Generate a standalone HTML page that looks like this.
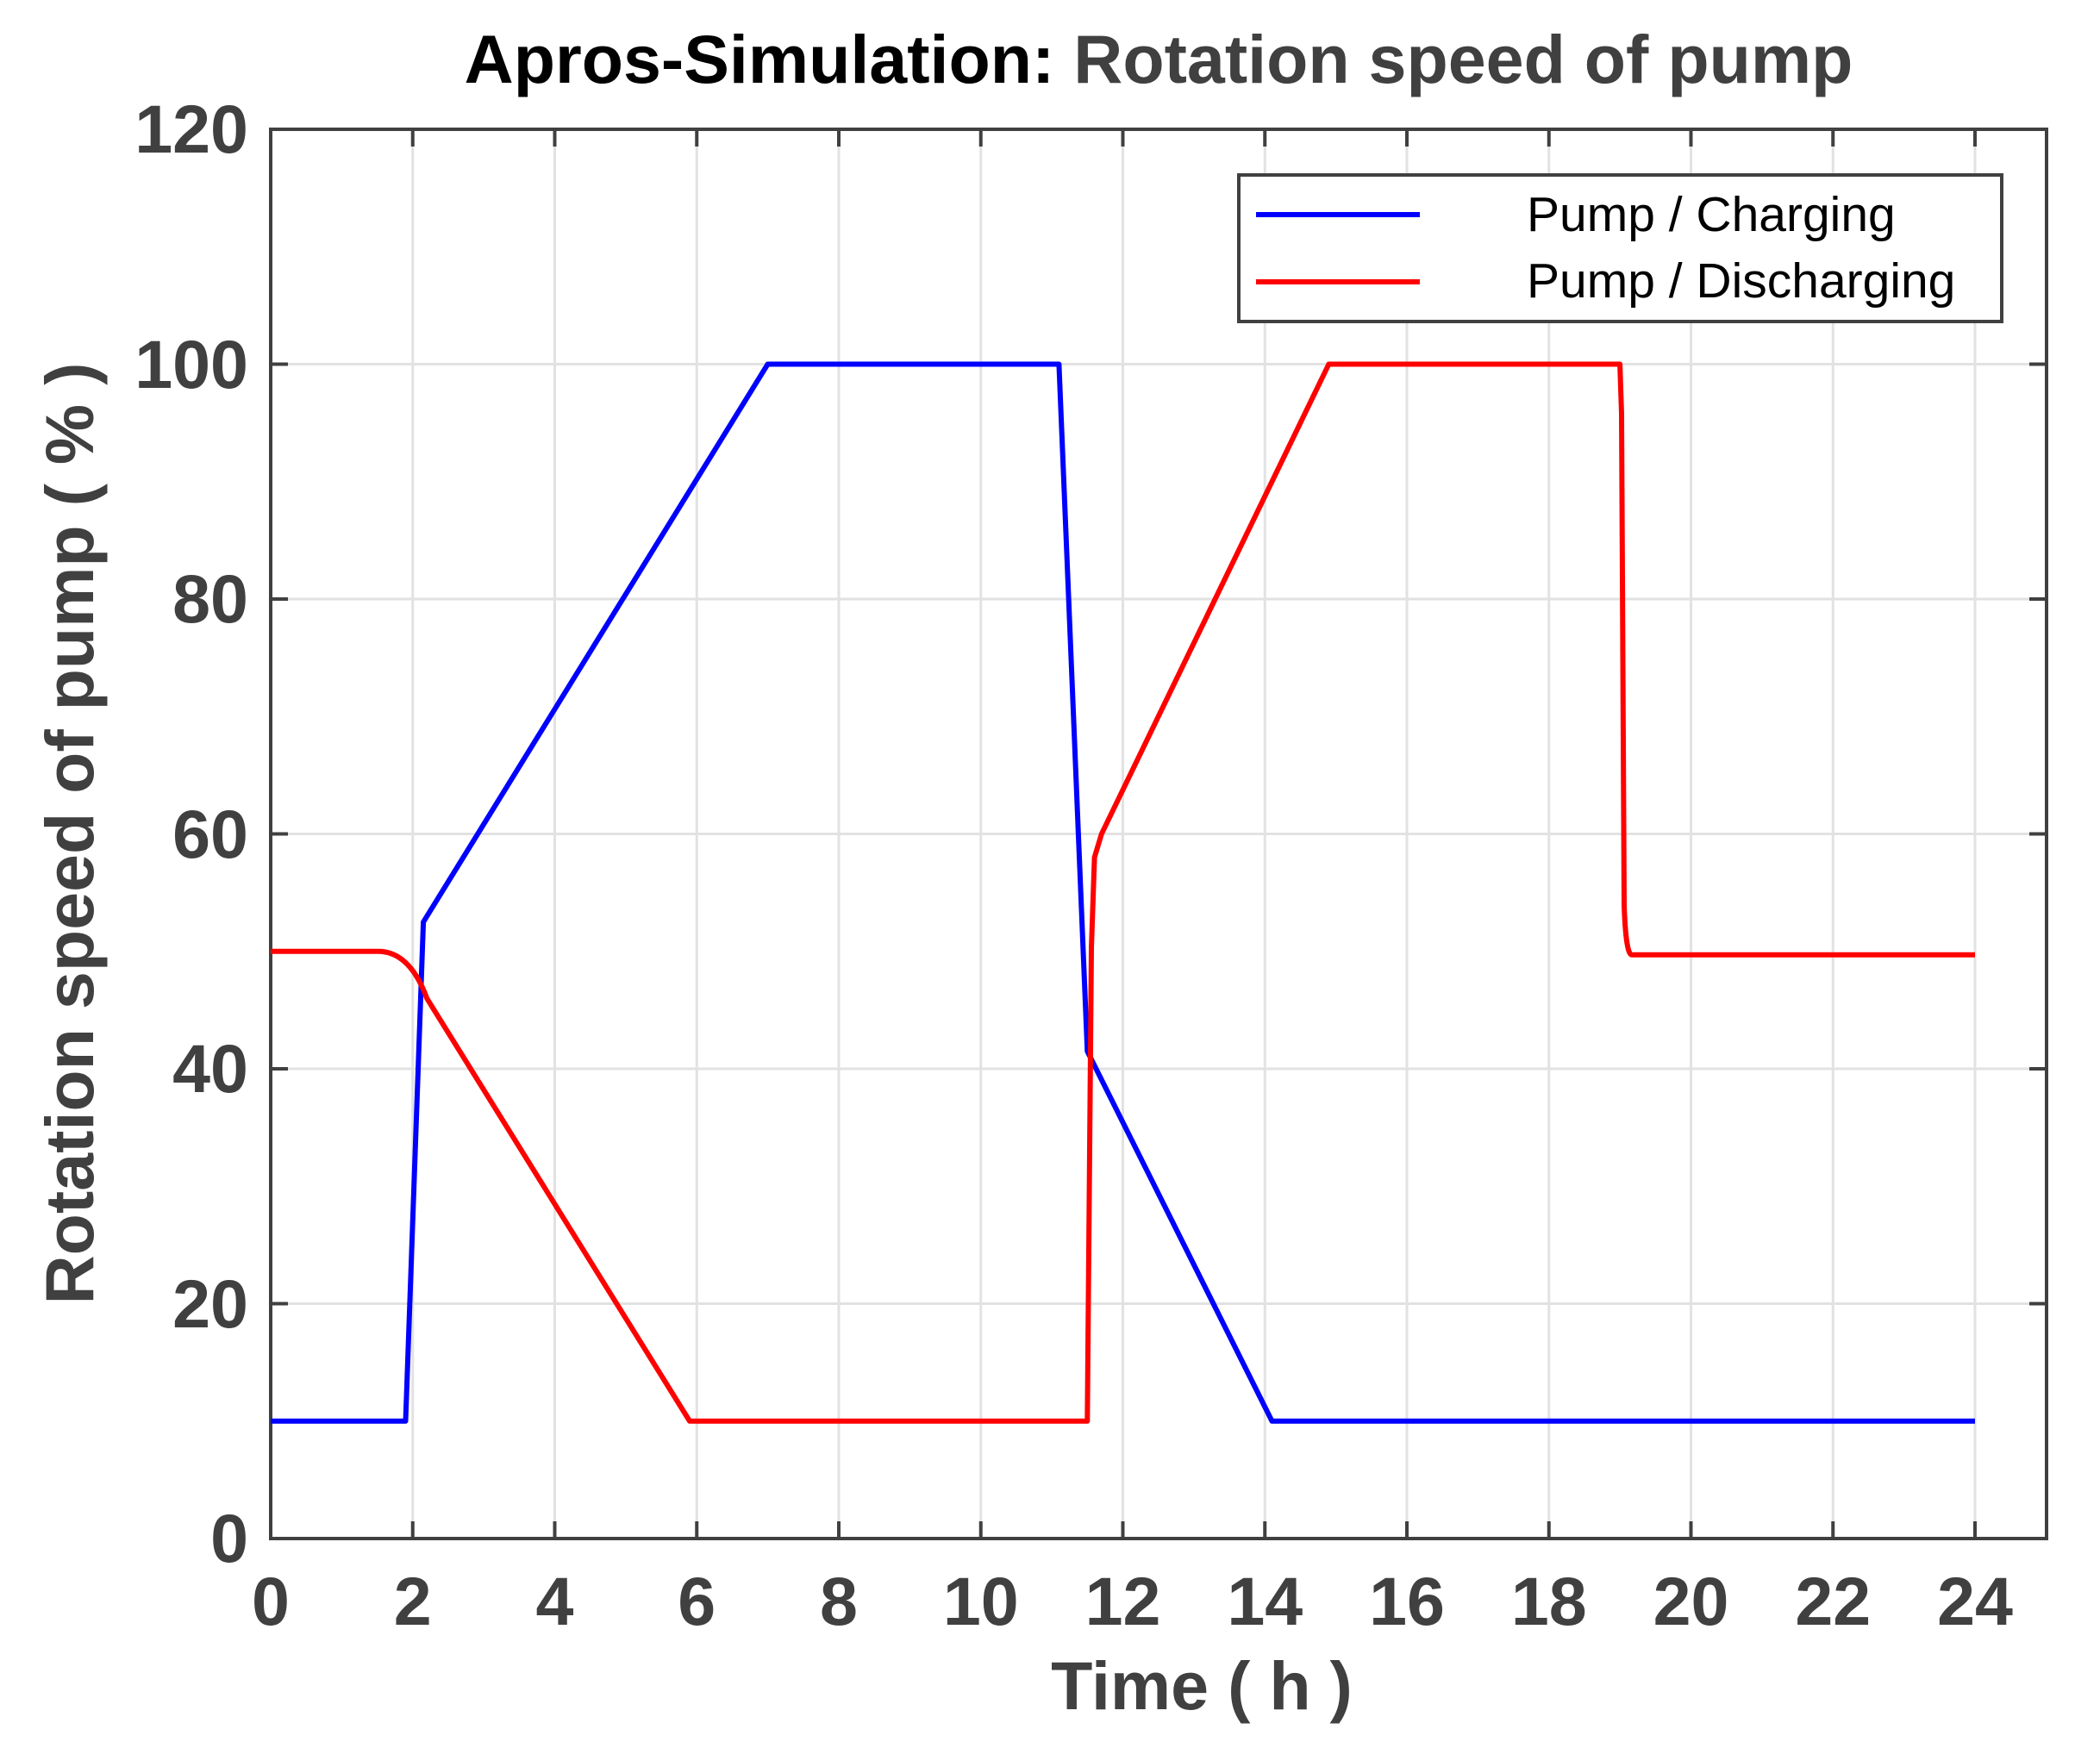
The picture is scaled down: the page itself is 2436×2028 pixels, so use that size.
<!DOCTYPE html>
<html><head><meta charset="utf-8"><style>
html,body{margin:0;padding:0;background:#fff;}
svg{display:block;}
</style></head><body>
<svg width="2436" height="2028" viewBox="0 0 2436 2028" xmlns="http://www.w3.org/2000/svg">
<rect width="2436" height="2028" fill="#fff"/>
<g stroke="#e2e2e2" stroke-width="3">
<line x1="478.75" y1="150" x2="478.75" y2="1785"/>
<line x1="643.5" y1="150" x2="643.5" y2="1785"/>
<line x1="808.25" y1="150" x2="808.25" y2="1785"/>
<line x1="973" y1="150" x2="973" y2="1785"/>
<line x1="1137.75" y1="150" x2="1137.75" y2="1785"/>
<line x1="1302.5" y1="150" x2="1302.5" y2="1785"/>
<line x1="1467.25" y1="150" x2="1467.25" y2="1785"/>
<line x1="1632" y1="150" x2="1632" y2="1785"/>
<line x1="1796.75" y1="150" x2="1796.75" y2="1785"/>
<line x1="1961.5" y1="150" x2="1961.5" y2="1785"/>
<line x1="2126.25" y1="150" x2="2126.25" y2="1785"/>
<line x1="2291" y1="150" x2="2291" y2="1785"/>
<line x1="314" y1="1512.5" x2="2374" y2="1512.5"/>
<line x1="314" y1="1240" x2="2374" y2="1240"/>
<line x1="314" y1="967.5" x2="2374" y2="967.5"/>
<line x1="314" y1="695" x2="2374" y2="695"/>
<line x1="314" y1="422.5" x2="2374" y2="422.5"/>
</g>
<g stroke="#404040" stroke-width="4">
<path d="M478.75,1785v-20M643.5,1785v-20M808.25,1785v-20M973,1785v-20M1137.75,1785v-20M1302.5,1785v-20M1467.25,1785v-20M1632,1785v-20M1796.75,1785v-20M1961.5,1785v-20M2126.25,1785v-20M2291,1785v-20"/>
<path d="M478.75,150v20M643.5,150v20M808.25,150v20M973,150v20M1137.75,150v20M1302.5,150v20M1467.25,150v20M1632,150v20M1796.75,150v20M1961.5,150v20M2126.25,150v20M2291,150v20"/>
<path d="M314,1512.5h20M314,1240h20M314,967.5h20M314,695h20M314,422.5h20"/>
<path d="M2374,1512.5h-20M2374,1240h-20M2374,967.5h-20M2374,695h-20M2374,422.5h-20"/>
<rect x="314" y="150" width="2060" height="1635" fill="none"/>
</g>
<polyline fill="none" stroke="#0000ff" stroke-width="6" stroke-linejoin="round" points="314,1648.75 470.5,1648.75 491.1,1069.7 890.6,422.5 1228.4,422.5 1261.3,1219.6 1475.5,1648.75 2291,1648.75"/>
<path fill="none" stroke="#ff0000" stroke-width="6" stroke-linejoin="round" d="M314,1103.75 L437.6,1103.75 Q475,1103 495.2,1158.3 L800,1648.75 L1261.3,1648.75 L1266,1100 L1269.6,994.75 L1277.8,967.5 L1541.4,422.5 L1879.1,422.5 L1881,480 L1884,1050 Q1886,1108 1893,1107.8 L2291,1107.8"/>
<rect x="1437" y="203" width="885" height="170" fill="#fff" stroke="#404040" stroke-width="4"/>
<line x1="1457" y1="249" x2="1647" y2="249" stroke="#0000ff" stroke-width="6"/>
<line x1="1457" y1="327" x2="1647" y2="327" stroke="#ff0000" stroke-width="6"/>
<g font-family="Liberation Sans, sans-serif" font-size="57" fill="#000">
<text x="1771" y="268">Pump / Charging</text>
<text x="1771" y="345">Pump / Discharging</text>
</g>
<g font-family="Liberation Sans, sans-serif" font-size="79" font-weight="bold" fill="#404040">
<g text-anchor="end">
<text x="288" y="1812">0</text>
<text x="288" y="1540">20</text>
<text x="288" y="1267">40</text>
<text x="288" y="995">60</text>
<text x="288" y="722">80</text>
<text x="288" y="450">100</text>
<text x="288" y="177">120</text>
</g>
<g text-anchor="middle">
<text x="314" y="1885">0</text>
<text x="478.75" y="1885">2</text>
<text x="643.5" y="1885">4</text>
<text x="808.25" y="1885">6</text>
<text x="973" y="1885">8</text>
<text x="1137.75" y="1885">10</text>
<text x="1302.5" y="1885">12</text>
<text x="1467.25" y="1885">14</text>
<text x="1632" y="1885">16</text>
<text x="1796.75" y="1885">18</text>
<text x="1961.5" y="1885">20</text>
<text x="2126.25" y="1885">22</text>
<text x="2291" y="1885">24</text>
<text x="1394" y="1983">Time ( h )</text>
<text transform="translate(108,967) rotate(-90)">Rotation speed of pump ( % )</text>
</g>
</g>
<text x="1344" y="96" text-anchor="middle" font-family="Liberation Sans, sans-serif" font-size="79" font-weight="bold"><tspan fill="#000">Apros-Simulation: </tspan><tspan fill="#404040">Rotation speed of pump</tspan></text>
</svg>
</body></html>
